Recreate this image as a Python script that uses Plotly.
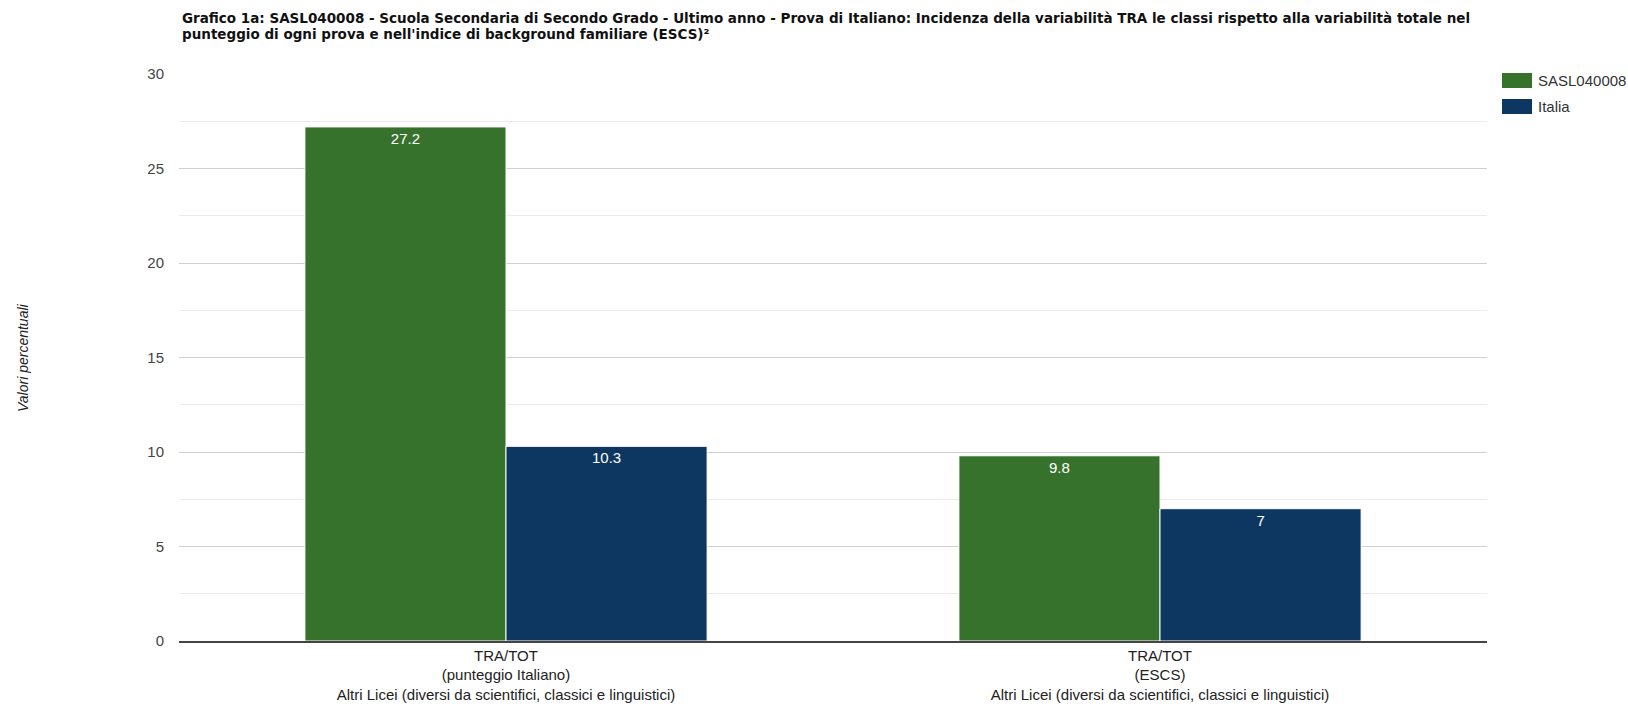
import plotly.graph_objects as go

categories = [
    "TRA/TOT<br>(punteggio Italiano)<br>Altri Licei (diversi da scientifici, classici e linguistici)",
    "TRA/TOT<br>(ESCS)<br>Altri Licei (diversi da scientifici, classici e linguistici)",
]
series_names = ["SASL040008", "Italia"]
school_values = [27.2, 9.8]
italia_values = [10.3, 7]
y_ticks = [0, 5, 10, 15, 20, 25, 30]
title_lines = [
    "Grafico 1a: SASL040008 - Scuola Secondaria di Secondo Grado - Ultimo anno - Prova di Italiano: Incidenza della variabilità TRA le classi rispetto alla variabilità totale nel",
    "punteggio di ogni prova e nell'indice di background familiare (ESCS)²",
]
y_title = "Valori percentuali"

colors = ["#37722d", "#0d3760"]
FONT = "Liberation Sans, Arial, sans-serif"
TFONT = "DejaVu Sans, sans-serif"

W, H = 1628, 707
L, R, T, B = 179, 141, 74, 66
PW, PH = W - L - R, H - T - B


def px_x(x):
    return (x - L) / PW


def px_y(y):
    return (H - B - y) / PH


fig = go.Figure()
for name, vals, col in zip(series_names, [school_values, italia_values], colors):
    fig.add_trace(go.Bar(
        x=categories, y=vals, name=name,
        marker=dict(color=col, line=dict(color="white", width=1)),
        text=[str(v) for v in vals],
        textposition="inside", insidetextanchor="end",
        textfont=dict(color="white", size=15, family=FONT),
        textangle=0, showlegend=False,
        hoverinfo="x+y+name",
    ))

annotations = []
for i, line in enumerate(title_lines):
    annotations.append(dict(
        text="<b>" + line + "</b>", xref="paper", yref="paper",
        x=px_x(180), y=px_y(18 + 16 * i), xanchor="left", yanchor="middle",
        showarrow=False, font=dict(family=TFONT, size=13.5, color="#111"),
    ))
annotations.append(dict(
    text="<i>" + y_title + "</i>", textangle=-90,
    xref="paper", yref="paper", x=px_x(23), y=px_y(358),
    xanchor="center", yanchor="middle", showarrow=False,
    font=dict(family=FONT, size=14, color="#222"),
))

shapes = []
for i, (name, col) in enumerate(zip(series_names, colors)):
    y0 = 73 + 26 * i
    shapes.append(dict(
        type="rect", xref="paper", yref="paper",
        x0=px_x(1502), x1=px_x(1532), y0=px_y(y0 + 15), y1=px_y(y0),
        fillcolor=col, line=dict(width=0),
    ))
    annotations.append(dict(
        text=name, xref="paper", yref="paper",
        x=px_x(1536), y=px_y(y0 + 7.5), xanchor="left", yanchor="middle",
        showarrow=False, font=dict(family=FONT, size=15, color="#333"),
    ))

fig.update_layout(
    width=W, height=H,
    barmode="group", bargap=0.385, bargroupgap=0,
    plot_bgcolor="white", paper_bgcolor="white",
    margin=dict(l=L, r=R, t=T, b=B),
    font=dict(family=FONT, size=15, color="#222"),
    showlegend=False,
    xaxis=dict(
        showgrid=False, showline=True, linecolor="#444", linewidth=1.5,
        ticks="", tickfont=dict(family=FONT, size=15, color="#222"),
        fixedrange=True, automargin=False,
    ),
    yaxis=dict(
        range=[0, 30], tickvals=y_ticks, ticktext=[str(t) for t in y_ticks],
        showgrid=True, gridcolor="#d0d0d0", gridwidth=1,
        zeroline=False, showline=False, ticks="",
        tickfont=dict(family=FONT, size=15, color="#444"),
        ticklabelstandoff=14, automargin=False,
        minor=dict(dtick=2.5, showgrid=True, gridcolor="#ebebeb", gridwidth=1),
    ),
    annotations=annotations,
    shapes=shapes,
)

fig.write_html(
    "out.html",
    config={"displayModeBar": False},
    post_script="document.body.style.margin='0';document.body.style.overflow='hidden';",
)
